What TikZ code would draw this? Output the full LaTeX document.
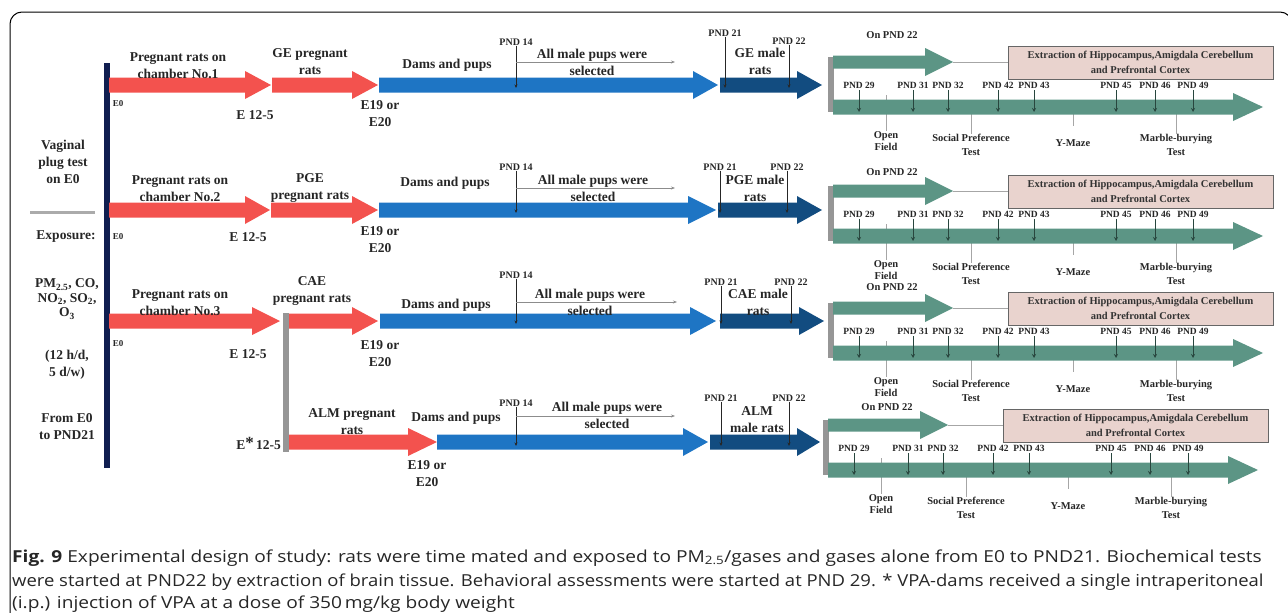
\documentclass[tikz,border=0pt]{standalone}
\usepackage{fontspec}
\setmainfont{Liberation Serif}
\newfontfamily\capfont[FakeStretch=1.16]{Open Sans}
\usetikzlibrary{arrows.meta}
\definecolor{rred}{RGB}{243,82,78}
\definecolor{rblue}{RGB}{30,117,196}
\definecolor{dblue}{RGB}{18,76,128}
\definecolor{navy}{RGB}{16,30,80}
\definecolor{grn}{RGB}{92,149,133}
\definecolor{boxfill}{RGB}{233,211,206}
\definecolor{gbar}{RGB}{150,150,150}
\definecolor{gtk}{RGB}{40,70,62}
\tikzset{
  lab/.style={font=\bfseries\fontsize{13.5}{17}\selectfont, align=center, inner sep=0pt, text=black!85},
  small/.style={font=\bfseries\fontsize{10}{11}\selectfont, inner sep=0pt, text=black!85},
  tiny/.style={font=\bfseries\fontsize{9}{10}\selectfont, inner sep=0pt, text=black!85},
  pnd/.style={font=\bfseries\fontsize{9.5}{10}\selectfont, inner sep=0pt, text=black!85},
  ptxt/.style={font=\bfseries\fontsize{10.5}{14}\selectfont, align=center, inner sep=0pt, text=black!85},
  exbox/.style={draw=black!60, line width=0.8pt, fill=boxfill, minimum width=265pt, minimum height=33pt, inner sep=0pt, font=\bfseries\fontsize{10.5}{15}\selectfont, align=center, text=black!80},
  tick/.style={draw=black!85, line width=0.7pt, -{Stealth[length=3.5pt,width=3pt]}},
  gtick/.style={draw=gtk, line width=0.8pt, -{Stealth[length=4pt,width=4pt]}},
  gline/.style={draw=black!35, line width=0.7pt},
  garrow/.style={draw=black!45, line width=0.7pt, -{Stealth[length=4pt,width=3pt]}},
  capt/.style={font=\capfont\fontsize{16.5}{18}\selectfont, anchor=base west, inner sep=0pt, text=black!85},
}
% block arrow: x-start, x-tip, x-headstart, y-center, shaft half, head half, colour
\newcommand\barrow[7]{%
  \fill[#7] (#1,#4-#5) -- (#3,#4-#5) -- (#3,#4-#6) -- (#2,#4) -- (#3,#4+#6) -- (#3,#4+#5) -- (#1,#4+#5) -- cycle;}
% right panel: gx, ty, y of "On PND 22", id
\newcommand\panel[4]{%
  \fill[gbar] (#1,#2-5) rectangle (#1+6,#2+50);
  \barrow{#1+5}{#1+125}{#1+97}{#2}{6.5}{14}{grn}
  \node[ptxt] (on#4) at (#1+64,#3) {On PND 22};
  \node[exbox] (ex#4) at (#1+312.5,#2+0.5) {Extraction of Hippocampus,Amigdala Cerebellum\\and Prefrontal Cortex};
  \coordinate (tip#4) at (#1+125,#2+0.5);
  \draw[gline] (tip#4) -- (ex#4.west);
  \node[ptxt] (of#4) at (#1+58,#2+79) {Open\\[-2pt]Field};
  \node[ptxt] (sp#4) at (#1+143,#2+82.5) {Social Preference\\Test};
  \node[ptxt] (ym#4) at (#1+245,#2+81) {Y-Maze};
  \node[ptxt] (mb#4) at (#1+348,#2+82.5) {Marble-burying\\Test};
  \coordinate (ofa#4) at (#1+58,#2+33);
  \draw[gline] (ofa#4) -- (of#4.north);
  \draw[gline] (#1+143,#2+52) coordinate (spa#4) -- (sp#4.north);
  \draw[gline] (#1+245,#2+52) coordinate (yma#4) -- (#1+245,#2+64);
  \draw[gline] (#1+348,#2+52) coordinate (mba#4) -- (mb#4.north);
  \barrow{#1+5}{#1+435}{#1+405}{#2+45}{7.5}{14}{grn}
  \foreach \d/\o in {29/31,31/85,32/120,42/170,43/206,45/288,46/327,49/365}{
    \node[pnd] (p#4-\d) at (#1+\o,#2+23) {PND \d};
    \draw[gtick, shorten <=2pt] (p#4-\d.south) -- (#1+\o,#2+50);
  }
}
\begin{document}
\begin{tikzpicture}[x=1pt,y=-1pt]
\useasboundingbox (0,0) rectangle (1288,613);
\clip (0,0) rectangle (1288,613);
\draw[line width=1pt, rounded corners=12pt] (10,12) rectangle (1292,680);

% left column
\fill[navy] (104,63) rectangle (109.5,468);
\node[lab] (vag) at (63,162) {Vaginal\\plug test\\on E0};
\draw[gbar!80, line width=3pt] (30,212) coordinate (sepl) -- (95,212) coordinate (sepr);
\node[lab] (expo) at (66,237) {Exposure:};
\node[lab, font=\bfseries\fontsize{13.5}{14.5}\selectfont] (pm) at (67,299) {PM\textsubscript{2.5}, CO,\\NO\textsubscript{2}, SO\textsubscript{2},\\O\textsubscript{3}};
\node[lab] (hd) at (67,365) {(12 h/d,\\5 d/w)};
\node[lab] (from) at (67,426.5) {From E0\\to PND21};

% ---------- row 1 ----------
\barrow{109}{271}{245}{85}{7.5}{14}{rred}
\barrow{272}{378}{352}{85}{7.5}{14}{rred}
\barrow{379}{718}{693}{85}{7.5}{14}{rblue}
\barrow{720}{822}{797}{85}{7.5}{14}{dblue}
\node[lab] (r1a) at (178,65.5) {Pregnant rats on\\chamber No.1};
\node[lab] (r1b) at (310,61.5) {GE pregnant\\rats};
\node[tiny] (r1e0) at (118,104) {E0};
\node[lab] (r1e12) at (255,115) {E 12-5};
\node[lab] (r1e19) at (380,114) {E19 or\\E20};
\node[lab] (r1dp) at (447,65) {Dams and pups};
\node[small] (r1p14) at (516,42) {PND 14};
\draw[tick] (r1p14.south) -- (516,88);
\coordinate (r1s) at (516,62);
\coordinate (r1t) at (675,62);
\draw[garrow] (r1s) -- (r1t);
\node[lab] (r1sel) at (592,62.5) {All male pups were\\selected};
\node[small] (r1p21) at (725,33) {PND 21};
\draw[tick] (r1p21.south) -- (725,88);
\node[small] (r1p22) at (789,41) {PND 22};
\draw[tick] (r1p22.south) -- (789,88);
\node[lab] (r1m) at (760,61.5) {GE male\\rats};

% ---------- row 2 ----------
\barrow{109}{270}{245}{210}{7.5}{14}{rred}
\barrow{271}{378}{352}{210}{7.5}{14}{rred}
\barrow{379}{716}{688}{210}{7.5}{14}{rblue}
\barrow{718}{822}{797}{210}{7.5}{14}{dblue}
\node[lab] (r2a) at (180,188.5) {Pregnant rats on\\chamber No.2};
\node[lab] (r2b) at (310,188.5) {PGE\\pregnant rats};
\node[tiny] (r2e0) at (118,237) {E0};
\node[lab] (r2e12) at (248,237) {E 12-5};
\node[lab] (r2e19) at (380,239.5) {E19 or\\E20};
\node[lab] (r2dp) at (445,183) {Dams and pups};
\node[small] (r2p14) at (516,167) {PND 14};
\draw[tick] (r2p14.south) -- (516,213);
\coordinate (r2s) at (516,188);
\coordinate (r2t) at (675,188);
\draw[garrow] (r2s) -- (r2t);
\node[lab] (r2sel) at (593,188.5) {All male pups were\\selected};
\node[small] (r2p21) at (720,167) {PND 21};
\draw[tick] (r2p21.south) -- (720,213);
\node[small] (r2p22) at (787,167) {PND 22};
\draw[tick] (r2p22.south) -- (787,213);
\node[lab] (r2m) at (755,188.5) {PGE male\\rats};

% ---------- row 3 ----------
\barrow{109}{280}{252}{321}{7.5}{14}{rred}
\fill[gbar] (283,313) rectangle (289,452);
\barrow{289}{378}{352}{321}{7.5}{14}{rred}
\barrow{380}{716}{690}{321}{7.5}{14}{rblue}
\barrow{720}{824}{799}{321}{7.5}{14}{dblue}
\node[lab] (r3a) at (180,303) {Pregnant rats on\\chamber No.3};
\node[lab] (r3b) at (312,291.5) {CAE\\pregnant rats};
\node[tiny] (r3e0) at (118,344) {E0};
\node[lab] (r3e12) at (248,354) {E 12-5};
\node[lab] (r3e19) at (380,353.5) {E19 or\\E20};
\node[lab] (r3dp) at (446,305) {Dams and pups};
\node[small] (r3p14) at (516,275) {PND 14};
\draw[tick] (r3p14.south) -- (516,324);
\coordinate (r3s) at (516,302);
\coordinate (r3t) at (677,302);
\draw[garrow] (r3s) -- (r3t);
\node[lab] (r3sel) at (590,302.5) {All male pups were\\selected};
\node[small] (r3p21) at (721,282) {PND 21};
\draw[tick] (r3p21.south) -- (721,324);
\node[small] (r3p22) at (791,282) {PND 22};
\draw[tick] (r3p22.south) -- (791,324);
\node[lab] (r3m) at (758,302.5) {CAE male\\rats};

% ---------- row 4 ----------
\barrow{289}{437}{408}{442}{7.5}{14}{rred}
\barrow{437}{708}{683}{442}{7.5}{14}{rblue}
\barrow{710}{820}{797}{442}{7.5}{14}{dblue}
\node[lab] (r4b) at (352,421.5) {ALM pregnant\\rats};
\node[lab, anchor=east] (r4e12) at (281,443) {E\raisebox{1pt}{\fontsize{17}{17}\selectfont *}\,12-5};
\node[lab] (r4e19) at (427,473.5) {E19 or\\E20};
\node[lab] (r4dp) at (456,418) {Dams and pups};
\node[small] (r4p14) at (516,403) {PND 14};
\draw[tick] (r4p14.south) -- (516,446);
\coordinate (r4s) at (516,416);
\coordinate (r4t) at (675,416);
\draw[garrow] (r4s) -- (r4t);
\node[lab] (r4sel) at (607,415.5) {All male pups were\\selected};
\node[small] (r4p21) at (721,398) {PND 21};
\draw[tick] (r4p21.south) -- (721,446);
\node[small] (r4p22) at (789,398) {PND 22};
\draw[tick] (r4p22.south) -- (789,446);
\node[lab] (r4m) at (757,420) {ALM\\male rats};

% ---------- right panels ----------
\panel{828}{62}{35}{a}
\panel{828}{191}{172}{b}
\panel{828}{308}{287}{c}
\panel{823}{425}{407}{d}

% ---------- caption ----------
\node[capt] (c1) at (12,562) {\textbf{Fig. 9} Experimental design of study: rats were time mated and exposed to PM\textsubscript{2.5}/gases and gases alone from E0 to PND21. Biochemical tests};
\node[capt] (c2) at (12,586) {\scalebox{0.965}[1]{were started at PND22 by extraction of brain tissue. Behavioral assessments were started at PND 29. * VPA-dams received a single intraperitoneal}};
\node[capt] (c3) at (12,608.5) {(i.p.) injection of VPA at a dose of 350\,mg/kg body weight};
\end{tikzpicture}
\end{document}
